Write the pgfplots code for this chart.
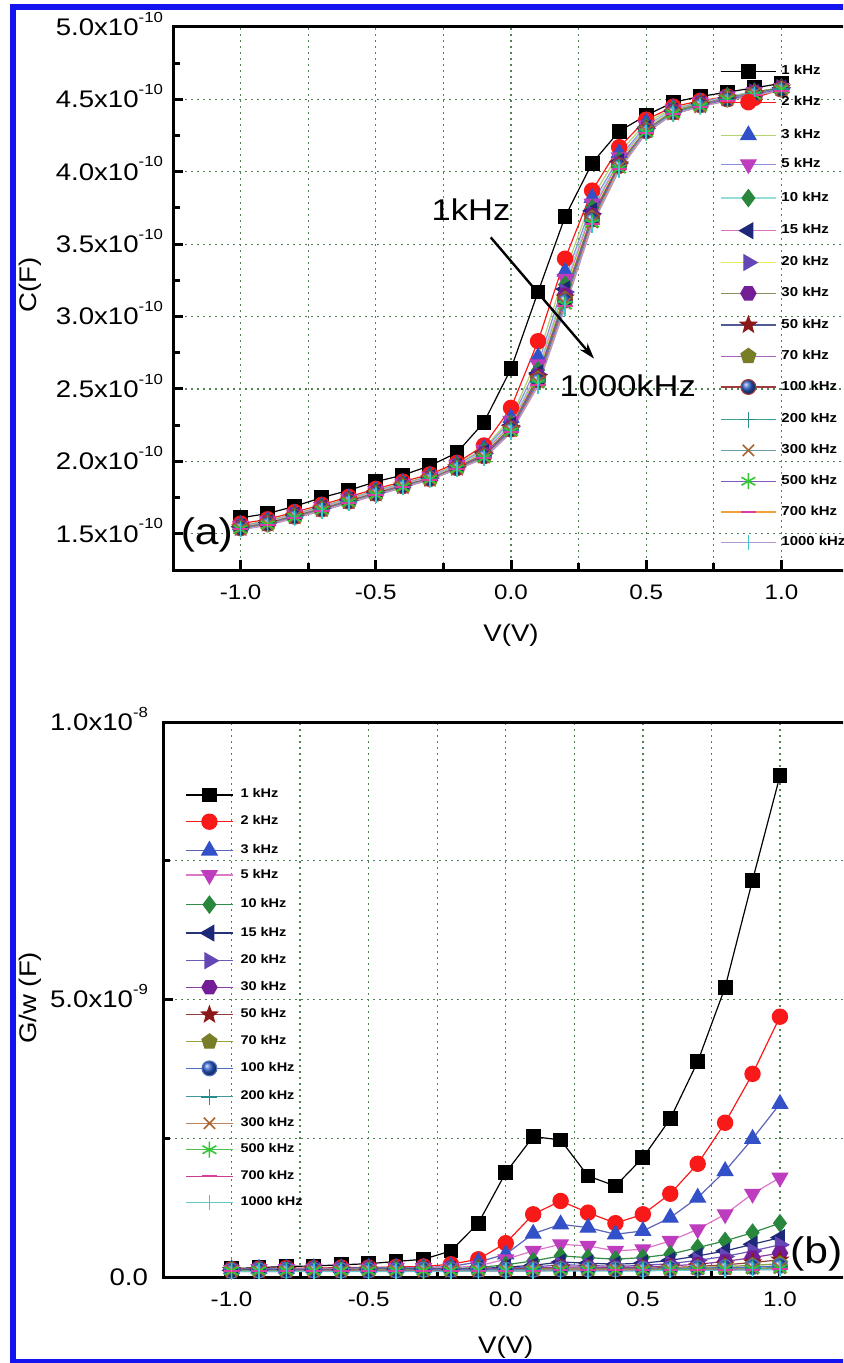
\documentclass[border=0pt]{standalone}
\usepackage{fontspec}
\setmainfont{Liberation Sans}[FakeStretch=1.15]
\usepackage{pgfplots}
\pgfplotsset{compat=1.18}
\usepackage{pgfplotstable}
\usetikzlibrary{arrows.meta}

% marker colours
\definecolor{c2}{RGB}{250,25,25}
\definecolor{c3}{RGB}{50,80,200}
\definecolor{c5}{RGB}{190,60,190}
\definecolor{c10}{RGB}{40,135,60}
\definecolor{c15}{RGB}{30,40,120}
\definecolor{c20}{RGB}{100,70,180}
\definecolor{c30}{RGB}{115,30,150}
\definecolor{c50}{RGB}{140,25,25}
\definecolor{c70}{RGB}{120,125,40}
\definecolor{c100}{RGB}{40,90,200}
\definecolor{c200}{RGB}{40,140,140}
\definecolor{c300}{RGB}{170,100,50}
\definecolor{c500}{RGB}{50,200,50}
\definecolor{c700}{RGB}{220,60,160}
\definecolor{c1000}{RGB}{60,200,200}
% line colours, panel (a)
\definecolor{l3}{RGB}{180,210,110}
\definecolor{l5}{RGB}{140,140,220}
\definecolor{l10}{RGB}{150,220,220}
\definecolor{l15}{RGB}{220,110,190}
\definecolor{l20}{RGB}{235,235,90}
\definecolor{l30}{RGB}{140,140,90}
\definecolor{l50}{RGB}{80,90,150}
\definecolor{l70}{RGB}{170,100,190}
\definecolor{l100}{RGB}{160,60,60}
\definecolor{l200}{RGB}{60,160,150}
\definecolor{l300}{RGB}{110,160,170}
\definecolor{l500}{RGB}{130,90,190}
\definecolor{l700}{RGB}{240,160,60}
\definecolor{l1000}{RGB}{180,150,210}
% line colours, panel (b)
\definecolor{b3}{RGB}{90,100,180}
\definecolor{b5}{RGB}{220,120,200}
\definecolor{b10}{RGB}{50,140,70}
\definecolor{b15}{RGB}{40,50,120}
\definecolor{b20}{RGB}{110,90,180}
\definecolor{b30}{RGB}{140,60,160}
\definecolor{b50}{RGB}{150,60,60}
\definecolor{b70}{RGB}{150,160,60}
\definecolor{b100}{RGB}{80,110,190}
\definecolor{b200}{RGB}{70,150,150}
\definecolor{b300}{RGB}{190,130,90}
\definecolor{b500}{RGB}{80,190,80}
\definecolor{b700}{RGB}{200,60,140}
\definecolor{b1000}{RGB}{100,200,200}
\definecolor{gridcol}{RGB}{85,130,85}
\definecolor{bordercol}{RGB}{20,20,240}

\pgfdeclareplotmark{hexagon*}{%
  \pgfpathmoveto{\pgfpointpolar{0}{\pgfplotmarksize}}%
  \pgfpathlineto{\pgfpointpolar{60}{\pgfplotmarksize}}%
  \pgfpathlineto{\pgfpointpolar{120}{\pgfplotmarksize}}%
  \pgfpathlineto{\pgfpointpolar{180}{\pgfplotmarksize}}%
  \pgfpathlineto{\pgfpointpolar{240}{\pgfplotmarksize}}%
  \pgfpathlineto{\pgfpointpolar{300}{\pgfplotmarksize}}%
  \pgfpathclose\pgfusepathqfillstroke}
\pgfdeclareplotmark{fstar}{%
  \pgfpathmoveto{\pgfpointpolar{90}{\pgfplotmarksize}}%
  \pgfpathlineto{\pgfpointpolar{126}{0.42\pgfplotmarksize}}%
  \pgfpathlineto{\pgfpointpolar{162}{\pgfplotmarksize}}%
  \pgfpathlineto{\pgfpointpolar{198}{0.42\pgfplotmarksize}}%
  \pgfpathlineto{\pgfpointpolar{234}{\pgfplotmarksize}}%
  \pgfpathlineto{\pgfpointpolar{270}{0.42\pgfplotmarksize}}%
  \pgfpathlineto{\pgfpointpolar{306}{\pgfplotmarksize}}%
  \pgfpathlineto{\pgfpointpolar{342}{0.42\pgfplotmarksize}}%
  \pgfpathlineto{\pgfpointpolar{18}{\pgfplotmarksize}}%
  \pgfpathlineto{\pgfpointpolar{54}{0.42\pgfplotmarksize}}%
  \pgfpathclose\pgfusepathqfillstroke}

\newcommand{\sci}[2]{#1x10\smash{\raisebox{6.6pt}{\fontsize{7.3}{7.3}\selectfont #2}}}

% C-V data, C in units of 1e-10 F
\pgfplotstableread{
V f1 f2 f3 f5 f10 f15 f20 f30 f50 f70 f100 f200 f300 f500 f700 f1000
-1.0 1.61 1.57 1.56 1.555 1.55 1.548 1.546 1.544 1.542 1.54 1.538 1.536 1.534 1.532 1.53 1.528
-0.9 1.64 1.60 1.59 1.585 1.58 1.578 1.576 1.574 1.572 1.57 1.568 1.566 1.564 1.562 1.56 1.558
-0.8 1.69 1.65 1.64 1.635 1.63 1.628 1.626 1.624 1.622 1.62 1.618 1.616 1.614 1.612 1.61 1.608
-0.7 1.75 1.70 1.69 1.685 1.68 1.678 1.676 1.674 1.672 1.67 1.668 1.666 1.664 1.662 1.66 1.658
-0.6 1.80 1.755 1.745 1.74 1.735 1.732 1.73 1.728 1.726 1.724 1.722 1.72 1.718 1.716 1.714 1.712
-0.5 1.86 1.81 1.80 1.795 1.79 1.786 1.784 1.782 1.78 1.778 1.776 1.774 1.772 1.77 1.768 1.766
-0.4 1.905 1.86 1.85 1.845 1.84 1.838 1.836 1.834 1.832 1.83 1.828 1.826 1.824 1.822 1.82 1.818
-0.3 1.97 1.91 1.90 1.895 1.89 1.887 1.885 1.883 1.882 1.88 1.878 1.877 1.876 1.875 1.874 1.873
-0.2 2.06 1.99 1.98 1.975 1.97 1.965 1.962 1.96 1.957 1.955 1.953 1.951 1.95 1.948 1.946 1.945
-0.1 2.27 2.11 2.09 2.08 2.07 2.06 2.055 2.05 2.045 2.04 2.035 2.03 2.027 2.024 2.022 2.02
0.0 2.64 2.37 2.30 2.28 2.26 2.25 2.24 2.235 2.23 2.225 2.22 2.215 2.21 2.205 2.20 2.20
0.1 3.17 2.83 2.72 2.67 2.63 2.61 2.60 2.59 2.58 2.57 2.56 2.55 2.545 2.54 2.53 2.52
0.2 3.69 3.40 3.31 3.26 3.22 3.19 3.17 3.15 3.13 3.12 3.11 3.10 3.09 3.08 3.07 3.06
0.3 4.06 3.87 3.82 3.78 3.75 3.73 3.71 3.70 3.69 3.68 3.67 3.66 3.65 3.645 3.64 3.63
0.4 4.28 4.17 4.13 4.10 4.08 4.07 4.06 4.05 4.05 4.04 4.04 4.03 4.03 4.02 4.02 4.01
0.5 4.39 4.36 4.34 4.32 4.31 4.30 4.30 4.29 4.29 4.29 4.28 4.28 4.28 4.27 4.27 4.27
0.6 4.48 4.45 4.44 4.43 4.43 4.42 4.42 4.42 4.41 4.41 4.41 4.41 4.40 4.40 4.40 4.40
0.7 4.52 4.49 4.48 4.48 4.47 4.47 4.47 4.47 4.46 4.46 4.46 4.46 4.45 4.45 4.45 4.45
0.8 4.55 4.52 4.52 4.52 4.52 4.51 4.51 4.51 4.51 4.51 4.50 4.50 4.50 4.50 4.49 4.49
0.9 4.58 4.51 4.55 4.55 4.55 4.55 4.55 4.55 4.54 4.54 4.54 4.54 4.54 4.53 4.53 4.53
1.0 4.61 4.57 4.58 4.58 4.58 4.58 4.58 4.58 4.58 4.57 4.57 4.57 4.57 4.57 4.56 4.56
}\tabC

% G/w data, in units of 1e-9 F
\pgfplotstableread{
V f1 f2 f3 f5 f10 f15 f20 f30 f50 f70 f100 f200 f300 f500 f700 f1000
-1.0 0.15 0.14 0.14 0.13 0.13 0.12 0.12 0.12 0.12 0.12 0.11 0.11 0.11 0.11 0.10 0.10
-0.9 0.17 0.15 0.15 0.14 0.13 0.13 0.12 0.12 0.12 0.12 0.12 0.11 0.11 0.11 0.10 0.10
-0.8 0.19 0.16 0.15 0.14 0.13 0.13 0.13 0.12 0.12 0.12 0.12 0.12 0.11 0.11 0.10 0.10
-0.7 0.20 0.16 0.16 0.15 0.14 0.13 0.13 0.13 0.12 0.12 0.12 0.12 0.11 0.11 0.11 0.10
-0.6 0.22 0.17 0.16 0.15 0.14 0.13 0.13 0.13 0.13 0.12 0.12 0.12 0.11 0.11 0.11 0.10
-0.5 0.24 0.17 0.17 0.15 0.14 0.14 0.13 0.13 0.13 0.13 0.12 0.12 0.12 0.11 0.11 0.10
-0.4 0.28 0.18 0.17 0.16 0.15 0.14 0.14 0.13 0.13 0.13 0.12 0.12 0.12 0.11 0.11 0.10
-0.3 0.32 0.19 0.17 0.16 0.15 0.14 0.14 0.13 0.13 0.13 0.13 0.12 0.12 0.11 0.11 0.10
-0.2 0.47 0.23 0.19 0.17 0.15 0.14 0.14 0.14 0.13 0.13 0.13 0.12 0.12 0.11 0.11 0.10
-0.1 0.97 0.32 0.27 0.20 0.17 0.15 0.14 0.14 0.13 0.13 0.13 0.12 0.12 0.12 0.11 0.11
0.0 1.88 0.61 0.41 0.32 0.22 0.18 0.16 0.14 0.14 0.13 0.13 0.12 0.12 0.12 0.11 0.11
0.1 2.53 1.13 0.78 0.47 0.29 0.21 0.18 0.16 0.15 0.14 0.13 0.13 0.12 0.12 0.11 0.11
0.2 2.47 1.37 0.95 0.59 0.38 0.27 0.22 0.18 0.16 0.15 0.14 0.13 0.13 0.12 0.12 0.11
0.3 1.82 1.16 0.89 0.56 0.35 0.25 0.21 0.18 0.16 0.15 0.14 0.13 0.13 0.12 0.12 0.11
0.4 1.64 0.97 0.77 0.47 0.32 0.23 0.19 0.17 0.15 0.14 0.14 0.13 0.13 0.12 0.12 0.11
0.5 2.15 1.13 0.83 0.50 0.35 0.25 0.21 0.18 0.16 0.15 0.14 0.13 0.13 0.12 0.12 0.11
0.6 2.85 1.50 1.07 0.65 0.41 0.30 0.24 0.20 0.17 0.16 0.15 0.14 0.13 0.13 0.12 0.12
0.7 3.88 2.04 1.43 0.86 0.53 0.38 0.30 0.23 0.19 0.17 0.16 0.15 0.14 0.13 0.12 0.12
0.8 5.22 2.78 1.91 1.13 0.65 0.47 0.37 0.28 0.22 0.19 0.17 0.15 0.14 0.14 0.13 0.12
0.9 7.15 3.66 2.49 1.50 0.80 0.59 0.47 0.35 0.26 0.21 0.18 0.16 0.15 0.14 0.13 0.13
1.0 9.03 4.69 3.12 1.79 0.97 0.71 0.58 0.43 0.31 0.24 0.20 0.17 0.16 0.15 0.14 0.13
}\tabG

\pgfplotsset{
  mk1/.style={mark=square*, mark size=3.4pt, mark options={solid, fill=black, draw=black}},
  mk2/.style={mark=*, mark size=3.8pt, mark options={solid, fill=c2, draw=c2}},
  mk3/.style={mark=triangle*, mark size=4.4pt, mark options={solid, fill=c3, draw=c3}},
  mk5/.style={mark=triangle*, mark size=4.4pt, mark options={solid, fill=c5, draw=c5, rotate=180}},
  mk10/.style={mark=diamond*, mark size=4.2pt, mark options={solid, fill=c10, draw=c10}},
  mk15/.style={mark=triangle*, mark size=4.4pt, mark options={solid, fill=c15, draw=c15, rotate=90}},
  mk20/.style={mark=triangle*, mark size=4.4pt, mark options={solid, fill=c20, draw=c20, rotate=-90}},
  mk30/.style={mark=hexagon*, mark size=3.8pt, mark options={solid, fill=c30, draw=c30}},
  mk50/.style={mark=fstar, mark size=4.2pt, mark options={solid, fill=c50, draw=c50}},
  mk70/.style={mark=pentagon*, mark size=3.9pt, mark options={solid, fill=c70, draw=c70}},
  mk100/.style={mark=ball, mark size=3.7pt, mark options={solid, ball color=c100, draw=none}},
  mk200/.style={mark=+, mark size=4pt, mark options={solid, draw=c200, line width=0.8pt}},
  mk300/.style={mark=x, mark size=4pt, mark options={solid, draw=c300, line width=0.8pt}},
  mk500/.style={mark=asterisk, mark size=4pt, mark options={solid, draw=c500, line width=0.8pt}},
  mk700/.style={mark=-, mark size=3.8pt, mark options={solid, draw=c700, line width=1pt}},
  mk1000/.style={mark=|, mark size=3.8pt, mark options={solid, draw=c1000, line width=0.8pt}},
  panel/.style={
    scale only axis, anchor=north west,
    xmin=-1.25, xmax=1.25,
    scaled y ticks=false, scaled x ticks=false,
    tick align=inside, tick pos=left,
    axis line style={line width=1.5pt},
    major tick length=5pt, minor tick length=3.5pt,
    tick style={black, line width=1.5pt},
    xtick={-1,-0.5,0,0.5,1}, xticklabels={-1.0,-0.5,0.0,0.5,1.0},
    minor xtick={-0.75,-0.25,0.25,0.75},
    xmajorgrids, xminorgrids, ymajorgrids,
    grid style={gridcol, line width=0.65pt, dash pattern=on 1pt off 2pt},
    x tick label style={font=\fontsize{10.5}{10.5}\selectfont, yshift=-4pt},
    y tick label style={font=\fontsize{12}{12}\selectfont, xshift=-1.5pt},
    label style={font=\fontsize{12}{12}\selectfont},
    legend cell align=left,
  }
}

\newcommand{\pC}[3]{\addplot[color=#2, line width=0.6pt, mk#1] table[x=V, y expr=\thisrow{f#1}*1e-10]{\tabC}; \addlegendentry{#3}}
\newcommand{\pG}[3]{\addplot[color=#2, line width=0.6pt, mk#1] table[x=V, y expr=\thisrow{f#1}*1e-9]{\tabG}; \addlegendentry{#3}}

\begin{document}
\begin{tikzpicture}
\useasboundingbox (0pt,0pt) rectangle (421.5pt,-681.5pt);
\clip (0pt,0pt) rectangle (421.5pt,-681.5pt);

% ---------------- panel (a) ----------------
\begin{axis}[panel,
  at={(86.5pt,-13.5pt)}, width=338pt, height=271.5pt,
  ymin=1.25e-10, ymax=5e-10,
  ytick={1.5e-10,2e-10,2.5e-10,3e-10,3.5e-10,4e-10,4.5e-10,5e-10},
  yticklabels={\sci{1.5}{-10},\sci{2.0}{-10},\sci{2.5}{-10},\sci{3.0}{-10},\sci{3.5}{-10},\sci{4.0}{-10},\sci{4.5}{-10},\sci{5.0}{-10}},
  minor ytick={1.75e-10,2.25e-10,2.75e-10,3.25e-10,3.75e-10,4.25e-10,4.75e-10},
  xlabel={V(V)}, ylabel={C(F)},
  xlabel style={at={(axis description cs:0.5,-0.12)}, anchor=center},
  ylabel style={at={(axis description cs:-0.2115,0.525)}, anchor=center},
  legend style={at={(0.809,0.9318)}, anchor=north west, draw=none, fill=none,
    inner sep=0pt, row sep=8.3pt, nodes={inner sep=0pt},
    font=\fontsize{6.5}{6.5}\selectfont\bfseries,
    /tikz/every odd column/.append style={column sep=2.5pt}},
  legend image code/.code={\draw[mark repeat=2,mark phase=2,#1] plot coordinates {(0pt,0pt) (13.75pt,0pt) (27.5pt,0pt)};},
]
\pC{1}{black}{1 kHz}
\pC{2}{c2}{2 kHz}
\pC{3}{l3}{3 kHz}
\pC{5}{l5}{5 kHz}
\pC{10}{l10}{10 kHz}
\pC{15}{l15}{15 kHz}
\pC{20}{l20}{20 kHz}
\pC{30}{l30}{30 kHz}
\pC{50}{l50}{50 kHz}
\pC{70}{l70}{70 kHz}
\pC{100}{l100}{100 kHz}
\pC{200}{l200}{200 kHz}
\pC{300}{l300}{300 kHz}
\pC{500}{l500}{500 kHz}
\pC{700}{l700}{700 kHz}
\pC{1000}{l1000}{1000 kHz}
\node[font=\fontsize{15}{15}\selectfont] at (axis cs:-0.148,3.74e-10) {1kHz};
\node[font=\fontsize{15}{15}\selectfont] at (axis cs:0.432,2.52e-10) {1000kHz};
\draw[-{Stealth[length=8pt,width=5pt]}, line width=1.2pt] (axis cs:-0.075,3.547e-10) -- (axis cs:0.307,2.71e-10);
\node[font=\fontsize{18.5}{18.5}\selectfont] at (axis cs:-1.125,1.495e-10) {(a)};
\end{axis}

% ---------------- panel (b) ----------------
\begin{axis}[panel,
  at={(81.5pt,-361pt)}, width=342.75pt, height=277.5pt,
  ymin=0, ymax=1e-8,
  ytick={0,5e-9,1e-8},
  yticklabels={0.0,\sci{5.0}{-9},\sci{1.0}{-8}},
  minor ytick={2.5e-9,7.5e-9},
  yminorgrids,
  y tick label style={xshift=-2.5pt},
  xlabel={V(V)}, ylabel={G/w (F)},
  xlabel style={at={(axis description cs:0.5,-0.126)}, anchor=center},
  ylabel style={at={(axis description cs:-0.194,0.503)}, anchor=center},
  legend style={at={(0.032,0.8816)}, anchor=north west, draw=none, fill=none,
    inner sep=0pt, row sep=6.2pt, nodes={inner sep=0pt},
    font=\fontsize{6.3}{6.3}\selectfont\bfseries,
    /tikz/every odd column/.append style={column sep=3.5pt}},
  legend image code/.code={\draw[mark repeat=2,mark phase=2,#1] plot coordinates {(0pt,0pt) (11.75pt,0pt) (23.5pt,0pt)};},
]
\pG{1}{black}{1 kHz}
\pG{2}{c2}{2 kHz}
\pG{3}{b3}{3 kHz}
\pG{5}{b5}{5 kHz}
\pG{10}{b10}{10 kHz}
\pG{15}{b15}{15 kHz}
\pG{20}{b20}{20 kHz}
\pG{30}{b30}{30 kHz}
\pG{50}{b50}{50 kHz}
\pG{70}{b70}{70 kHz}
\pG{100}{b100}{100 kHz}
\pG{200}{b200}{200 kHz}
\pG{300}{b300}{300 kHz}
\pG{500}{b500}{500 kHz}
\pG{700}{b700}{700 kHz}
\pG{1000}{b1000}{1000 kHz}
\node[font=\fontsize{18.5}{18.5}\selectfont, anchor=west, inner sep=0pt] at (axis cs:1.036,0.42e-9) {(b)};
\end{axis}

% blue frame
\draw[line width=3pt, bordercol] (440pt,-3.35pt) -- (6.5pt,-3.35pt) -- (6.5pt,-680.8pt) -- (440pt,-680.8pt);
\end{tikzpicture}
\end{document}
